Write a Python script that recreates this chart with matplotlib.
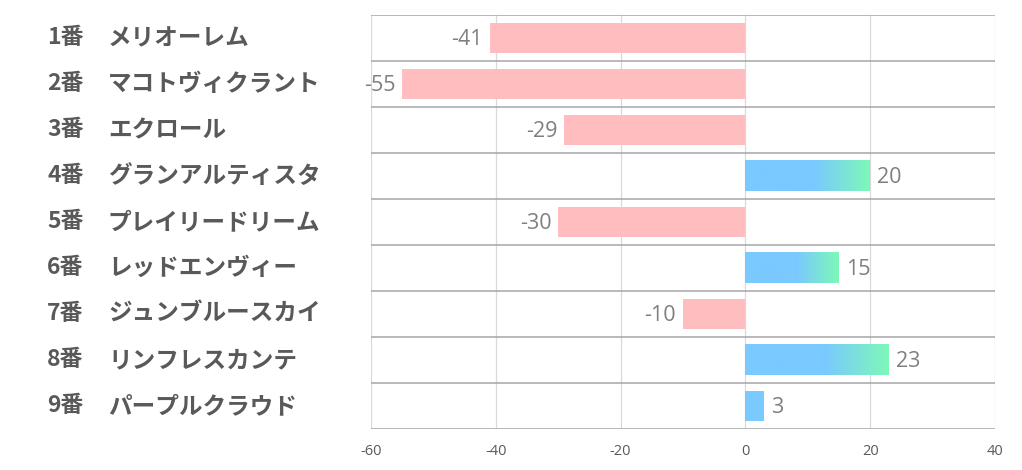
import numpy as np
import matplotlib.pyplot as plt
import matplotlib.transforms as mtrans
from matplotlib.colors import LinearSegmentedColormap

plt.rcParams['font.family'] = ['Noto Sans CJK JP', 'DejaVu Sans']

numbers = ["1番", "2番", "3番", "4番", "5番", "6番", "7番", "8番", "9番"]
names = ["メリオーレム", "マコトヴィクラント", "エクロール", "グランアルティスタ",
         "プレイリードリーム", "レッドエンヴィー", "ジュンブルースカイ",
         "リンフレスカンテ", "パープルクラウド"]
values = [-41, -55, -29, 20, -30, 15, -10, 23, 3]

xticks = [-60, -40, -20, 0, 20, 40]

NEG_COLOR = "#FFBDBF"
BLUE = "#7AC9FF"
GRAD = LinearSegmentedColormap.from_list(
    "bluegreen", [(0.0, BLUE), (0.55, BLUE), (1.0, "#7DF8B8")])
LABEL_COLOR = "#595959"
VALUE_COLOR = "#7F7F7F"
NUM_FONT = ['Open Sans', 'DejaVu Sans']

fig = plt.figure(figsize=(10.22, 4.70), dpi=100)
ax = fig.add_axes([371 / 1022, 1 - 429 / 470, 624 / 1022, 414 / 470])

n = len(values)
h = 0.67
grad = np.linspace(0, 1, 256).reshape(1, -1)
for i, v in enumerate(values):
    if v < 0:
        ax.barh(i, v, height=h, color=NEG_COLOR, zorder=2)
        ax.text(v - 1.1, i + 0.03, f"{v}", ha='right', va='center',
                fontsize=15.5, color=VALUE_COLOR, family=NUM_FONT)
    else:
        if v < 5:
            ax.barh(i, v, height=h, color=BLUE, zorder=2)
        else:
            ax.imshow(grad, cmap=GRAD, extent=[0, v, i + h / 2, i - h / 2],
                      aspect='auto', zorder=2, interpolation='bilinear')
        ax.text(v + 1.1, i + 0.03, f"{v}", ha='left', va='center',
                fontsize=15.5, color=VALUE_COLOR, family=NUM_FONT)

ax.set_xlim(-60, 40)
ax.set_ylim(n - 0.5, -0.5)

for x in xticks:
    ax.axvline(x, color="#D9D9D9", linewidth=0.9, zorder=1)
for k in range(n + 1):
    ax.axhline(k - 0.5, color="#A6A6A6", linewidth=1.1, zorder=3)

for s in ax.spines.values():
    s.set_visible(False)
ax.set_yticks([])
ax.set_xticks(xticks)
ax.set_xticklabels([str(t) for t in xticks], color=LABEL_COLOR, fontsize=10.5,
                   family=NUM_FONT)
ax.tick_params(axis='x', length=0, pad=11)

trans = mtrans.blended_transform_factory(fig.transFigure, ax.transData)
for i in range(n):
    ax.text(47 / 1022, i, numbers[i], transform=trans, ha='left', va='center',
            fontsize=16.5, fontweight='bold', color=LABEL_COLOR)
    ax.text(108 / 1022, i, names[i], transform=trans, ha='left', va='center',
            fontsize=17, fontweight='bold', color=LABEL_COLOR)

fig.savefig("out.png", dpi=100)
